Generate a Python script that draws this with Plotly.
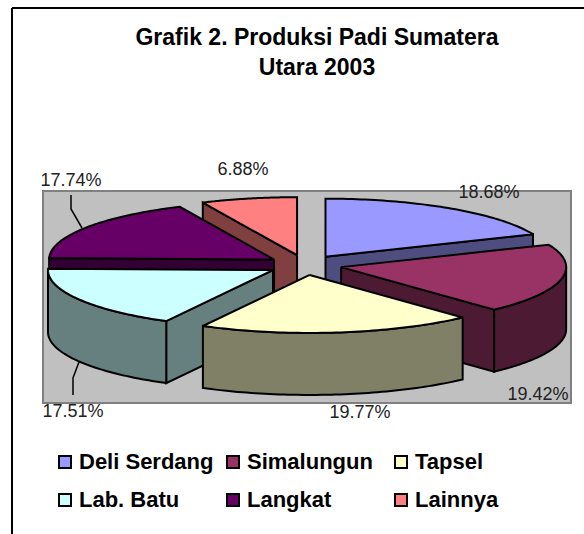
import numpy as np
import plotly.graph_objects as go

categories = ["Deli Serdang", "Simalungun", "Tapsel", "Lab. Batu", "Langkat", "Lainnya"]
shares = [18.68, 19.42, 19.77, 17.51, 17.74, 6.88]
top_colors = ["#9999FF", "#993366", "#FFFFCC", "#CCFFFF", "#660066", "#FF8080"]
wall_colors = ["#4D4D80", "#4D1A33", "#808066", "#668080", "#330033", "#804040"]
draw_order = [5, 0, 4, 3, 1, 2]

W, H = 584, 534
CX, CY, RX, RY, DEPTH, EXPLODE = 305, 265, 225, 58, 62, 37

label_x = [489, 538, 360, 73, 71, 243]
label_y = [193, 395, 413, 412, 181, 170]
legend_x = [65, 233, 401, 65, 233, 401]
legend_y = [461, 461, 461, 499, 499, 499]
leader_x = [[71, 71, 82], [73, 73, 79]]
leader_y = [[195, 209, 228], [395, 378, 362]]

ends = np.cumsum(shares) / sum(shares) * 2 * np.pi
starts = np.concatenate([[0], ends[:-1]])

fig = go.Figure()


def poly(xs, ys, fill):
    fig.add_trace(go.Scatter(
        x=list(xs) + [xs[0]], y=list(ys) + [ys[0]], mode="lines", fill="toself",
        fillcolor=fill, line=dict(color="black", width=2, simplify=False),
        hoverinfo="skip", showlegend=False))


for i in draw_order:
    a0, a1 = starts[i], ends[i]
    mid = (a0 + a1) / 2
    ax = CX + EXPLODE * np.sin(mid)
    ay = CY - EXPLODE * (RY / RX * 1.05) * np.cos(mid)
    px = lambda a: ax + RX * np.sin(a)
    py = lambda a: ay - RY * np.cos(a)
    # radial walls that face the viewer
    if np.sin(a0) < 0:
        poly([ax, px(a0), px(a0), ax], [ay, py(a0), py(a0) + DEPTH, ay + DEPTH], wall_colors[i])
    if np.sin(a1) > 0:
        poly([ax, px(a1), px(a1), ax], [ay, py(a1), py(a1) + DEPTH, ay + DEPTH], wall_colors[i])
    # outer rim, front half only
    r0, r1 = max(a0, np.pi / 2), min(a1, 3 * np.pi / 2)
    if r1 > r0:
        t = np.linspace(r0, r1, 60)
        poly(np.concatenate([px(t), px(t[::-1])]),
             np.concatenate([py(t), py(t[::-1]) + DEPTH]), wall_colors[i])
    # top face
    t = np.linspace(a0, a1, 60)
    poly(np.concatenate([[ax], px(t)]), np.concatenate([[ay], py(t)]), top_colors[i])

for lx, ly in zip(leader_x, leader_y):
    fig.add_trace(go.Scatter(x=lx, y=ly, mode="lines", line=dict(color="black", width=1.5),
                             hoverinfo="skip", showlegend=False))

fig.add_trace(go.Scatter(
    x=label_x, y=label_y, mode="text", text=[f"{v:.2f}%" for v in shares],
    textposition="middle center", textfont=dict(family="Liberation Sans", size=18, color="#222222"),
    hoverinfo="skip", showlegend=False))

for i, name in enumerate(categories):
    fig.add_trace(go.Scatter(
        x=[legend_x[i]], y=[legend_y[i] + 1], mode="markers",
        marker=dict(symbol="square", size=12, color=top_colors[i], line=dict(color="black", width=2)),
        name=name, hoverinfo="name", showlegend=False))
    fig.add_trace(go.Scatter(
        x=[legend_x[i] + 14], y=[legend_y[i] + 2], mode="text", text=[name],
        textposition="middle right",
        textfont=dict(family="Liberation Sans", size=22, color="black", weight="bold"),
        hoverinfo="skip", showlegend=False))

fig.update_layout(
    width=W, height=H, margin=dict(l=0, r=0, t=0, b=0), autosize=False,
    paper_bgcolor="white", plot_bgcolor="white",
    xaxis=dict(range=[0, W], visible=False, fixedrange=True),
    yaxis=dict(range=[H, 0], visible=False, fixedrange=True),
    title=dict(text="<b>Grafik 2. Produksi Padi Sumatera<br>Utara 2003</b>",
               x=317 / W, xanchor="center", y=1 - 45 / H, yanchor="top",
               font=dict(family="Liberation Sans", size=23, color="black")),
    shapes=[
        dict(type="rect", xref="x", yref="y", x0=43, x1=571, y0=191, y1=403, layer="below",
             fillcolor="#C0C0C0", line=dict(color="#808080", width=2)),
        dict(type="line", xref="x", yref="y", x0=12, x1=12, y0=8, y1=H, layer="below",
             line=dict(color="black", width=2)),
        dict(type="line", xref="x", yref="y", x0=12, x1=W, y0=8, y1=8, layer="below",
             line=dict(color="black", width=2)),
    ],
)
fig.write_html("out.html", config=dict(displayModeBar=False),
               post_script="document.body.style.margin='0';")
